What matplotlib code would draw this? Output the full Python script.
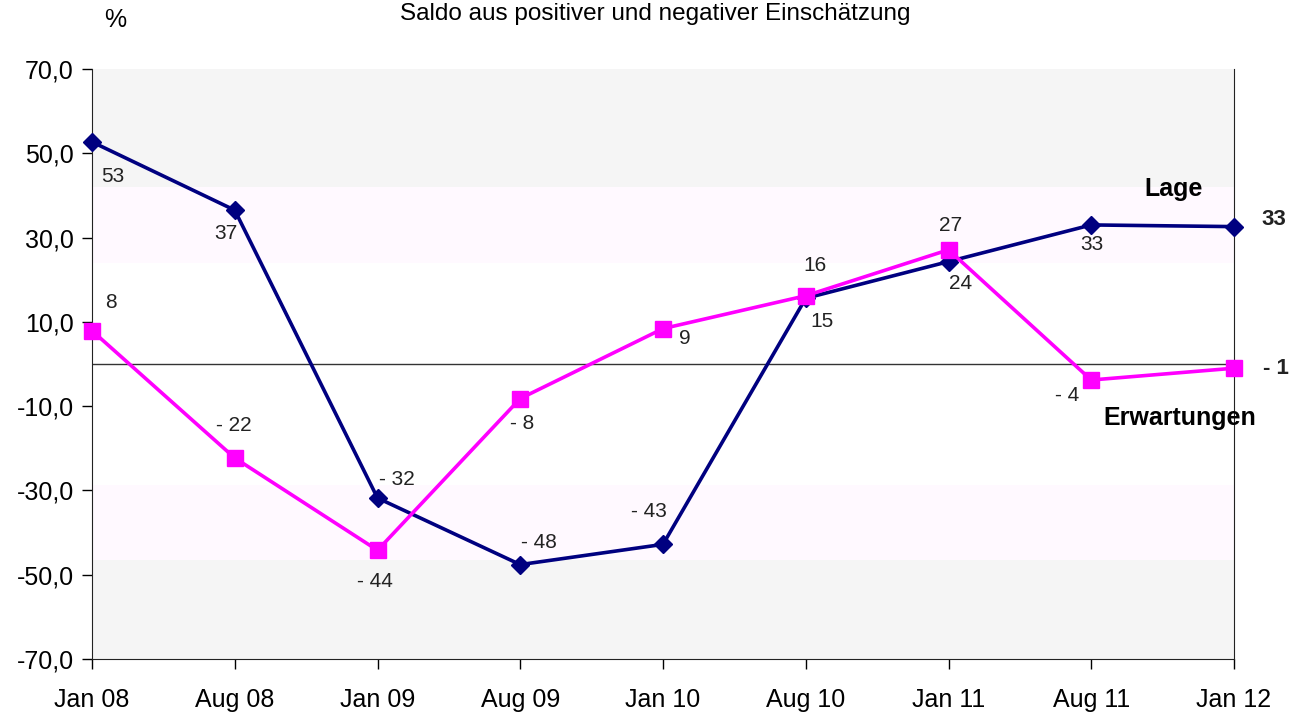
import matplotlib
matplotlib.use("Agg")
import matplotlib.pyplot as plt

plt.rcParams["font.family"] = ["Liberation Sans", "DejaVu Sans"]

# Data
months = ["Jan 08", "Aug 08", "Jan 09", "Aug 09", "Jan 10", "Aug 10", "Jan 11", "Aug 11", "Jan 12"]
lage = [52.7, 36.5, -31.8, -47.6, -42.8, 15.6, 24.3, 33.0, 32.6]
erwartungen = [7.9, -22.3, -44.2, -8.2, 8.4, 16.2, 27.1, -3.8, -1.0]
lage_labels = ["53", "37", "- 32", "- 48", "- 43", "15", "24", "33", "33"]
erw_labels = ["8", "- 22", "- 44", "- 8", "9", "16", "27", "- 4", "- 1"]

# label offsets in pixels (dx, dy up)
lage_off = [(21, -35), (-9, -23), (19, 19), (19, 22), (-14, 33), (16, -23), (12, -22), (1, -20), (40, 7)]
erw_off = [(19, 28), (-1, 32), (-3, -31), (2, -25), (22, -10), (9, 30), (2, 24), (-24, -15), (42, 0)]

x = list(range(len(months)))

fig = plt.figure(figsize=(12.92, 7.19), dpi=100)
ax = fig.add_axes([92 / 1292, 60 / 719, (1234 - 92) / 1292, (659 - 69) / 719])

# background bands
ax.axhspan(42, 70, color="#f5f5f5", lw=0, zorder=0)
ax.axhspan(24, 42, color="#fff9ff", lw=0, zorder=0)
ax.axhspan(-46.4, -28.6, color="#fff9ff", lw=0, zorder=0)
ax.axhspan(-70, -46.4, color="#f5f5f5", lw=0, zorder=0)
ax.axhline(0, color="#333333", lw=1, zorder=1)

ax.plot(x, lage, color="#000080", lw=2.6, marker="D", markersize=9.5, zorder=3, clip_on=False)
ax.plot(x, erwartungen, color="#ff00ff", lw=2.6, marker="s", markersize=11, zorder=4, clip_on=False)

last = len(x) - 1
for i, (v, t) in enumerate(zip(lage, lage_labels)):
    dx, dy = lage_off[i]
    end = i == last
    ax.annotate(t, (x[i], v), xytext=(dx * 0.72, dy * 0.72), textcoords="offset points",
                ha="center", va="center", fontsize=16 if end else 15, color="#222222",
                fontweight="bold" if end else "normal", annotation_clip=False)
for i, (v, t) in enumerate(zip(erwartungen, erw_labels)):
    dx, dy = erw_off[i]
    end = i == last
    ax.annotate(t, (x[i], v), xytext=(dx * 0.72, dy * 0.72), textcoords="offset points",
                ha="center", va="center", fontsize=16 if end else 15, color="#222222",
                fontweight="bold" if end else "normal", annotation_clip=False)

ax.text(7.58, 41.5, "Lage", fontsize=18, fontweight="bold", ha="center", va="center")
ax.text(7.62, -12.8, "Erwartungen", fontsize=18, fontweight="bold", ha="center", va="center")

ax.set_xlim(0, 8)
ax.set_ylim(-70, 70)
ax.set_xticks(x)
ax.set_xticklabels(months)
ax.set_yticks(range(-70, 71, 20))
ax.set_yticklabels([f"{v:.1f}".replace(".", ",") for v in range(-70, 71, 20)])
ax.tick_params(axis="both", labelsize=18, length=7, width=1, direction="out")
ax.tick_params(axis="x", pad=14)
ax.tick_params(axis="y", pad=6)
ax.spines["top"].set_visible(False)
for s in ["left", "bottom", "right"]:
    ax.spines[s].set_color("#222222")

fig.text(655 / 1292, 1 - 14 / 719, "Saldo aus positiver und negativer Einschätzung",
         fontsize=17.5, ha="center", va="center")
fig.text(115 / 1292, 1 - 20 / 719, "%", fontsize=18, ha="center", va="center")

fig.savefig("out.png", dpi=100)
